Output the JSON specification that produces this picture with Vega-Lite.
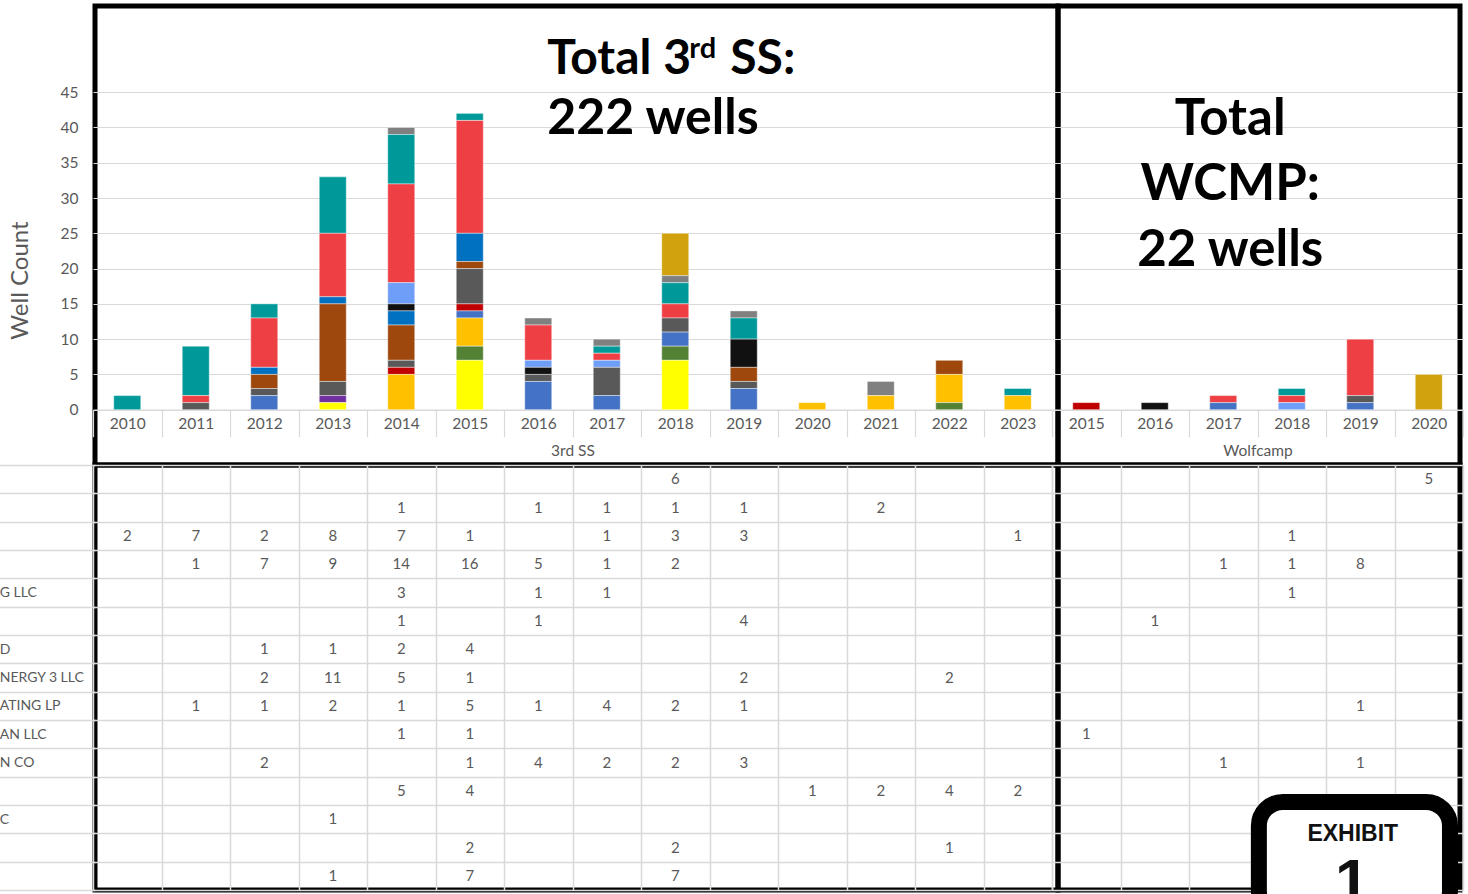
{
  "$schema": "https://vega.github.io/schema/vega-lite/v6.json",
  "padding": {"left": -5, "top": 3, "right": 0, "bottom": 0},
  "background": "white",
  "config": {
    "font": "Lato",
    "view": {"stroke": "black", "strokeWidth": 5},
    "axis": {"labelFont": "Lato", "titleFont": "Lato", "labelColor": "#595959", "titleColor": "#595959", "gridColor": "#D9D9D9", "domainColor": "#D9D9D9", "tickColor": "#D9D9D9", "titleFontWeight": "normal"}
  },
  "datasets": {
    "w": [
      {"g": "3rd SS", "year": "2018", "op": 1, "n": 6},
      {"g": "3rd SS", "year": "2014", "op": 2, "n": 1},
      {"g": "3rd SS", "year": "2016", "op": 2, "n": 1},
      {"g": "3rd SS", "year": "2017", "op": 2, "n": 1},
      {"g": "3rd SS", "year": "2018", "op": 2, "n": 1},
      {"g": "3rd SS", "year": "2019", "op": 2, "n": 1},
      {"g": "3rd SS", "year": "2021", "op": 2, "n": 2},
      {"g": "3rd SS", "year": "2010", "op": 3, "n": 2},
      {"g": "3rd SS", "year": "2011", "op": 3, "n": 7},
      {"g": "3rd SS", "year": "2012", "op": 3, "n": 2},
      {"g": "3rd SS", "year": "2013", "op": 3, "n": 8},
      {"g": "3rd SS", "year": "2014", "op": 3, "n": 7},
      {"g": "3rd SS", "year": "2015", "op": 3, "n": 1},
      {"g": "3rd SS", "year": "2017", "op": 3, "n": 1},
      {"g": "3rd SS", "year": "2018", "op": 3, "n": 3},
      {"g": "3rd SS", "year": "2019", "op": 3, "n": 3},
      {"g": "3rd SS", "year": "2023", "op": 3, "n": 1},
      {"g": "3rd SS", "year": "2011", "op": 4, "n": 1},
      {"g": "3rd SS", "year": "2012", "op": 4, "n": 7},
      {"g": "3rd SS", "year": "2013", "op": 4, "n": 9},
      {"g": "3rd SS", "year": "2014", "op": 4, "n": 14},
      {"g": "3rd SS", "year": "2015", "op": 4, "n": 16},
      {"g": "3rd SS", "year": "2016", "op": 4, "n": 5},
      {"g": "3rd SS", "year": "2017", "op": 4, "n": 1},
      {"g": "3rd SS", "year": "2018", "op": 4, "n": 2},
      {"g": "3rd SS", "year": "2014", "op": 5, "n": 3},
      {"g": "3rd SS", "year": "2016", "op": 5, "n": 1},
      {"g": "3rd SS", "year": "2017", "op": 5, "n": 1},
      {"g": "3rd SS", "year": "2014", "op": 6, "n": 1},
      {"g": "3rd SS", "year": "2016", "op": 6, "n": 1},
      {"g": "3rd SS", "year": "2019", "op": 6, "n": 4},
      {"g": "3rd SS", "year": "2012", "op": 7, "n": 1},
      {"g": "3rd SS", "year": "2013", "op": 7, "n": 1},
      {"g": "3rd SS", "year": "2014", "op": 7, "n": 2},
      {"g": "3rd SS", "year": "2015", "op": 7, "n": 4},
      {"g": "3rd SS", "year": "2012", "op": 8, "n": 2},
      {"g": "3rd SS", "year": "2013", "op": 8, "n": 11},
      {"g": "3rd SS", "year": "2014", "op": 8, "n": 5},
      {"g": "3rd SS", "year": "2015", "op": 8, "n": 1},
      {"g": "3rd SS", "year": "2019", "op": 8, "n": 2},
      {"g": "3rd SS", "year": "2022", "op": 8, "n": 2},
      {"g": "3rd SS", "year": "2011", "op": 9, "n": 1},
      {"g": "3rd SS", "year": "2012", "op": 9, "n": 1},
      {"g": "3rd SS", "year": "2013", "op": 9, "n": 2},
      {"g": "3rd SS", "year": "2014", "op": 9, "n": 1},
      {"g": "3rd SS", "year": "2015", "op": 9, "n": 5},
      {"g": "3rd SS", "year": "2016", "op": 9, "n": 1},
      {"g": "3rd SS", "year": "2017", "op": 9, "n": 4},
      {"g": "3rd SS", "year": "2018", "op": 9, "n": 2},
      {"g": "3rd SS", "year": "2019", "op": 9, "n": 1},
      {"g": "3rd SS", "year": "2014", "op": 10, "n": 1},
      {"g": "3rd SS", "year": "2015", "op": 10, "n": 1},
      {"g": "3rd SS", "year": "2012", "op": 11, "n": 2},
      {"g": "3rd SS", "year": "2015", "op": 11, "n": 1},
      {"g": "3rd SS", "year": "2016", "op": 11, "n": 4},
      {"g": "3rd SS", "year": "2017", "op": 11, "n": 2},
      {"g": "3rd SS", "year": "2018", "op": 11, "n": 2},
      {"g": "3rd SS", "year": "2019", "op": 11, "n": 3},
      {"g": "3rd SS", "year": "2014", "op": 12, "n": 5},
      {"g": "3rd SS", "year": "2015", "op": 12, "n": 4},
      {"g": "3rd SS", "year": "2020", "op": 12, "n": 1},
      {"g": "3rd SS", "year": "2021", "op": 12, "n": 2},
      {"g": "3rd SS", "year": "2022", "op": 12, "n": 4},
      {"g": "3rd SS", "year": "2023", "op": 12, "n": 2},
      {"g": "3rd SS", "year": "2013", "op": 13, "n": 1},
      {"g": "3rd SS", "year": "2015", "op": 14, "n": 2},
      {"g": "3rd SS", "year": "2018", "op": 14, "n": 2},
      {"g": "3rd SS", "year": "2022", "op": 14, "n": 1},
      {"g": "3rd SS", "year": "2013", "op": 15, "n": 1},
      {"g": "3rd SS", "year": "2015", "op": 15, "n": 7},
      {"g": "3rd SS", "year": "2018", "op": 15, "n": 7},
      {"g": "Wolfcamp", "year": "2020", "op": 1, "n": 5},
      {"g": "Wolfcamp", "year": "2018", "op": 3, "n": 1},
      {"g": "Wolfcamp", "year": "2017", "op": 4, "n": 1},
      {"g": "Wolfcamp", "year": "2018", "op": 4, "n": 1},
      {"g": "Wolfcamp", "year": "2019", "op": 4, "n": 8},
      {"g": "Wolfcamp", "year": "2018", "op": 5, "n": 1},
      {"g": "Wolfcamp", "year": "2016", "op": 6, "n": 1},
      {"g": "Wolfcamp", "year": "2019", "op": 9, "n": 1},
      {"g": "Wolfcamp", "year": "2015", "op": 10, "n": 1},
      {"g": "Wolfcamp", "year": "2017", "op": 11, "n": 1},
      {"g": "Wolfcamp", "year": "2019", "op": 11, "n": 1}
    ]
  },
  "columns": 2,
  "spacing": 0,
  "bounds": "flush",
  "align": "each",
  "concat": [
    {
      "width": 963,
      "height": 459,
      "layer": [
        {
          "data": {"name": "w"},
          "transform": [{"filter": "datum.g === '3rd SS'"}],
          "mark": {"type": "bar", "size": 27, "stroke": "white", "strokeWidth": 0.7, "strokeOpacity": 0.6},
          "encoding": {
            "x": {
              "field": "year", "type": "ordinal",
              "scale": {"domain": ["2010","2011","2012","2013","2014","2015","2016","2017","2018","2019","2020","2021","2022","2023"], "range": [-2, 957], "paddingInner": 0, "paddingOuter": 0},
              "axis": {"orient": "bottom", "offset": -55.3, "domain": true, "domainWidth": 1.2, "ticks": true, "tickBand": "extent", "tickSize": 27, "tickWidth": 1.2, "labelPadding": -20, "labelFontSize": 15.5, "labelAngle": 0, "title": "3rd SS", "titleFontSize": 15.5, "titleY": 41, "titleBaseline": "middle", "grid": false}
            },
            "y": {
              "field": "n", "type": "quantitative", "stack": "zero",
              "scale": {"domain": [-7.84, 57.22], "nice": false, "zero": false},
              "axis": {"values": [0,5,10,15,20,25,30,35,40,45], "grid": true, "gridWidth": 1.2, "domain": false, "ticks": false, "labelPadding": 17, "labelFontSize": 15.5, "title": "Well Count", "titleFontSize": 24, "titleX": -75, "titleY": 274, "titleAngle": -90, "titleAlign": "center", "titleBaseline": "middle"}
            },
            "color": {
              "field": "op", "type": "ordinal",
              "scale": {"domain": [1,2,3,4,5,6,7,8,9,10,11,12,13,14,15], "range": ["#D1A20E","#808080","#00999A","#EE3F45","#6E9EF7","#111111","#0070C0","#9E480E","#595959","#C00000","#4472C4","#FFC000","#7030A0","#548235","#FFFF00"]},
              "legend": null
            },
            "order": {"field": "op", "sort": "descending"}
          }
        },
        {
          "data": {"values": [{}]},
          "mark": {"type": "text", "text": "Total 3", "align": "left", "baseline": "alphabetic", "fontSize": 48, "fontWeight": "bold", "font": "Lato", "color": "black", "dx": -128},
          "encoding": {"x": {"datum": "2018"}, "y": {"datum": 47.55}}
        },
        {
          "data": {"values": [{}]},
          "mark": {"type": "text", "text": "rd", "align": "left", "baseline": "alphabetic", "fontSize": 29, "fontWeight": "bold", "font": "Lato", "color": "black", "dx": 14},
          "encoding": {"x": {"datum": "2018"}, "y": {"datum": 49.9}}
        },
        {
          "data": {"values": [{}]},
          "mark": {"type": "text", "text": "SS:", "align": "left", "baseline": "alphabetic", "fontSize": 48, "fontWeight": "bold", "font": "Lato", "color": "black", "dx": 55},
          "encoding": {"x": {"datum": "2018"}, "y": {"datum": 47.55}}
        },
        {
          "data": {"values": [{}]},
          "mark": {"type": "text", "text": "222 wells", "align": "left", "baseline": "alphabetic", "fontSize": 50, "fontWeight": "bold", "font": "Lato", "color": "black", "dx": -128},
          "encoding": {"x": {"datum": "2018"}, "y": {"datum": 39.14}}
        }
      ]
    },
    {
      "width": 402,
      "height": 459,
      "layer": [
        {
          "data": {"name": "w"},
          "transform": [{"filter": "datum.g === 'Wolfcamp'"}],
          "mark": {"type": "bar", "size": 27, "stroke": "white", "strokeWidth": 0.7, "strokeOpacity": 0.6},
          "encoding": {
            "x": {
              "field": "year", "type": "ordinal",
              "scale": {"domain": ["2015","2016","2017","2018","2019","2020"], "range": [-6, 405], "paddingInner": 0, "paddingOuter": 0},
              "axis": {"orient": "bottom", "offset": -55.3, "domain": true, "domainWidth": 1.2, "ticks": true, "tickBand": "extent", "tickSize": 27, "tickWidth": 1.2, "labelPadding": -20, "labelFontSize": 15.5, "labelAngle": 0, "title": "Wolfcamp", "titleFontSize": 15.5, "titleY": 41, "titleBaseline": "middle", "grid": false}
            },
            "y": {
              "field": "n", "type": "quantitative", "stack": "zero",
              "scale": {"domain": [-7.84, 57.22], "nice": false, "zero": false},
              "axis": {"values": [0,5,10,15,20,25,30,35,40,45], "grid": true, "gridWidth": 1.2, "domain": false, "ticks": false, "labels": false, "title": null}
            },
            "color": {
              "field": "op", "type": "ordinal",
              "scale": {"domain": [1,2,3,4,5,6,7,8,9,10,11,12,13,14,15], "range": ["#D1A20E","#808080","#00999A","#EE3F45","#6E9EF7","#111111","#0070C0","#9E480E","#595959","#C00000","#4472C4","#FFC000","#7030A0","#548235","#FFFF00"]},
              "legend": null
            },
            "order": {"field": "op", "sort": "descending"}
          }
        },
        {
          "data": {"values": [{}]},
          "mark": {"type": "text", "text": ["Total", "WCMP:", "22 wells"], "lineHeight": 65.5, "align": "center", "baseline": "alphabetic", "fontSize": 51, "fontWeight": "bold", "font": "Lato", "color": "black", "dx": 7},
          "encoding": {"x": {"datum": "2017"}, "y": {"datum": 39.0}}
        }
      ]
    },
    {
      "width": 963,
      "height": 425,
      "data": {"name": "w"},
      "transform": [{"filter": "datum.g === '3rd SS'"}],
      "mark": {"type": "text", "fontSize": 15, "font": "Lato", "color": "#595959"},
      "encoding": {
        "x": {
          "field": "year", "type": "ordinal",
          "scale": {"domain": ["2010","2011","2012","2013","2014","2015","2016","2017","2018","2019","2020","2021","2022","2023"], "range": [-2, 957], "paddingInner": 0, "paddingOuter": 0},
          "axis": {"orient": "top", "labels": false, "ticks": false, "domain": false, "grid": true, "gridWidth": 1.5, "tickBand": "extent", "title": null}
        },
        "y": {
          "field": "op", "type": "ordinal",
          "scale": {"domain": [1,2,3,4,5,6,7,8,9,10,11,12,13,14,15], "paddingInner": 0, "paddingOuter": 0},
          "axis": {"grid": true, "gridWidth": 1.5, "tickBand": "extent", "ticks": true, "tickSize": 95.8, "tickWidth": 1.5, "domain": false, "labelAlign": "left", "labelPadding": 0, "labelFontSize": 14, "labelBaseline": "middle", "labelLimit": 0, "labelExpr": "['','','','','G LLC','','D','NERGY 3 LLC','ATING LP','AN LLC','N CO','','C','',''][datum.value - 1]", "title": null}
        },
        "text": {"field": "n", "type": "quantitative"}
      }
    },
    {
      "width": 402,
      "height": 425,
      "layer": [
        {
          "data": {"name": "w"},
          "transform": [{"filter": "datum.g === 'Wolfcamp'"}],
          "mark": {"type": "text", "fontSize": 15, "font": "Lato", "color": "#595959"},
          "encoding": {
            "x": {
              "field": "year", "type": "ordinal",
              "scale": {"domain": ["2015","2016","2017","2018","2019","2020"], "range": [-6, 405], "paddingInner": 0, "paddingOuter": 0},
              "axis": {"orient": "top", "labels": false, "ticks": false, "domain": false, "grid": true, "gridWidth": 1.5, "tickBand": "extent", "title": null}
            },
            "y": {
              "field": "op", "type": "ordinal",
              "scale": {"domain": [1,2,3,4,5,6,7,8,9,10,11,12,13,14,15], "paddingInner": 0, "paddingOuter": 0},
              "axis": {"grid": true, "gridWidth": 1.5, "tickBand": "extent", "ticks": false, "domain": false, "labels": false, "title": null}
            },
            "text": {"field": "n", "type": "quantitative"}
          }
        },
        {
          "data": {"values": [{}]},
          "mark": {"type": "rect", "fill": "white", "stroke": "black", "strokeWidth": 16, "cornerRadius": 24},
          "encoding": {
            "x": {"datum": "2018", "type": "ordinal", "bandPosition": 0.02},
            "x2": {"datum": "2020", "bandPosition": 0.81},
            "y": {"datum": 12, "type": "ordinal", "bandPosition": 0.89},
            "y2": {"datum": 15, "bandPosition": 1.9}
          }
        },
        {
          "data": {"values": [{}]},
          "mark": {"type": "text", "text": "EXHIBIT", "align": "center", "baseline": "alphabetic", "fontSize": 23, "fontWeight": "bold", "font": "Liberation Sans", "color": "#111111", "dx": -7.5, "dy": 22},
          "encoding": {"x": {"datum": "2019", "type": "ordinal"}, "y": {"datum": 13, "type": "ordinal"}}
        },
        {
          "data": {"values": [{}]},
          "mark": {"type": "text", "text": "1", "align": "center", "baseline": "alphabetic", "fontSize": 62, "fontWeight": "bold", "font": "Liberation Sans", "color": "#111111", "dx": -8, "dy": 26},
          "encoding": {"x": {"datum": "2019", "type": "ordinal"}, "y": {"datum": 15, "type": "ordinal"}}
        }
      ]
    }
  ]
}
